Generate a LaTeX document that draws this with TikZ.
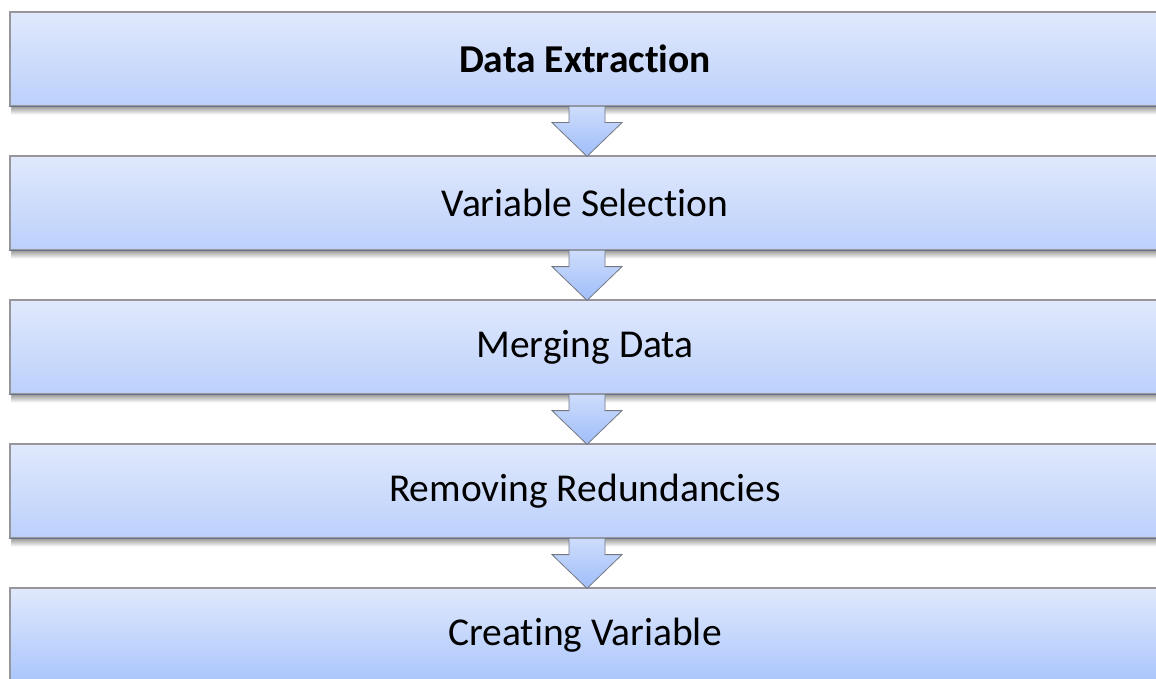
\documentclass[tikz,border=0pt]{standalone}
\usepackage{fontspec}
\setmainfont[Ligatures={NoCommon}]{Carlito}
\usetikzlibrary{calc}
\definecolor{boxtop}{RGB}{224,233,252}
\definecolor{boxbot}{RGB}{188,208,252}
\definecolor{boxbotlast}{RGB}{170,197,252}
\definecolor{edgecol}{RGB}{150,150,155}
\definecolor{edgebot}{RGB}{105,115,135}
\definecolor{arrtop}{RGB}{205,220,251}
\definecolor{arrbot}{RGB}{160,190,250}
\definecolor{arredge}{RGB}{115,120,130}
\tikzset{
  stepbox/.style={rectangle, minimum width=1170pt, minimum height=94pt,
    top color=boxtop, bottom color=boxbot, draw=edgecol, line width=1.2pt,
    font=\fontsize{39.5}{44}\selectfont, text=black, inner sep=0pt},
  flowarrow/.style={top color=arrtop, bottom color=arrbot, draw=arredge,
    line width=0.8pt, line join=miter},
  shadowband/.style={top color=black!35, bottom color=white, draw=none},
  bottomedge/.style={draw=edgebot, line width=1.6pt},
}
\begin{document}
\begin{tikzpicture}[x=1pt,y=-1pt]
\useasboundingbox (0,0) rectangle (1156,679);
\clip (0,0) rectangle (1156,679);
\fill[white] (0,0) rectangle (1156,679);

\node[stepbox] (b1) at (595,59) {\hspace*{-20pt}\textbf{Data Extraction}};
\node[stepbox] (b2) at (595,203) {\hspace*{-20pt}Variable Selection};
\node[stepbox] (b3) at (595,347) {\hspace*{-20pt}Merging Data};
\node[stepbox] (b4) at (595,491) {\hspace*{-20pt}Removing Redundancies};
\node[stepbox, bottom color=boxbotlast] (b5) at (595,635) {\hspace*{-20pt}Creating Variable};

\foreach \b in {b1,b2,b3,b4}{
  \shade[shadowband] ($(\b.south west)+(2,0.8)$) rectangle ($(\b.south east)+(0,8)$);
  \draw[bottomedge] (\b.south west) -- (\b.south east);
}

\foreach \a/\b in {b1/b2,b2/b3,b3/b4,b4/b5}{
  \draw[flowarrow]
    ($(\a.south)+(-26,0)$) -- ($(\a.south)+(-26,16)$) -- ($(\a.south)+(-43,16)$)
    -- ($(\b.north)+(-8,1)$)
    -- ($(\a.south)+(27,16)$) -- ($(\a.south)+(10,16)$) -- ($(\a.south)+(10,0)$);
}
\end{tikzpicture}
\end{document}
